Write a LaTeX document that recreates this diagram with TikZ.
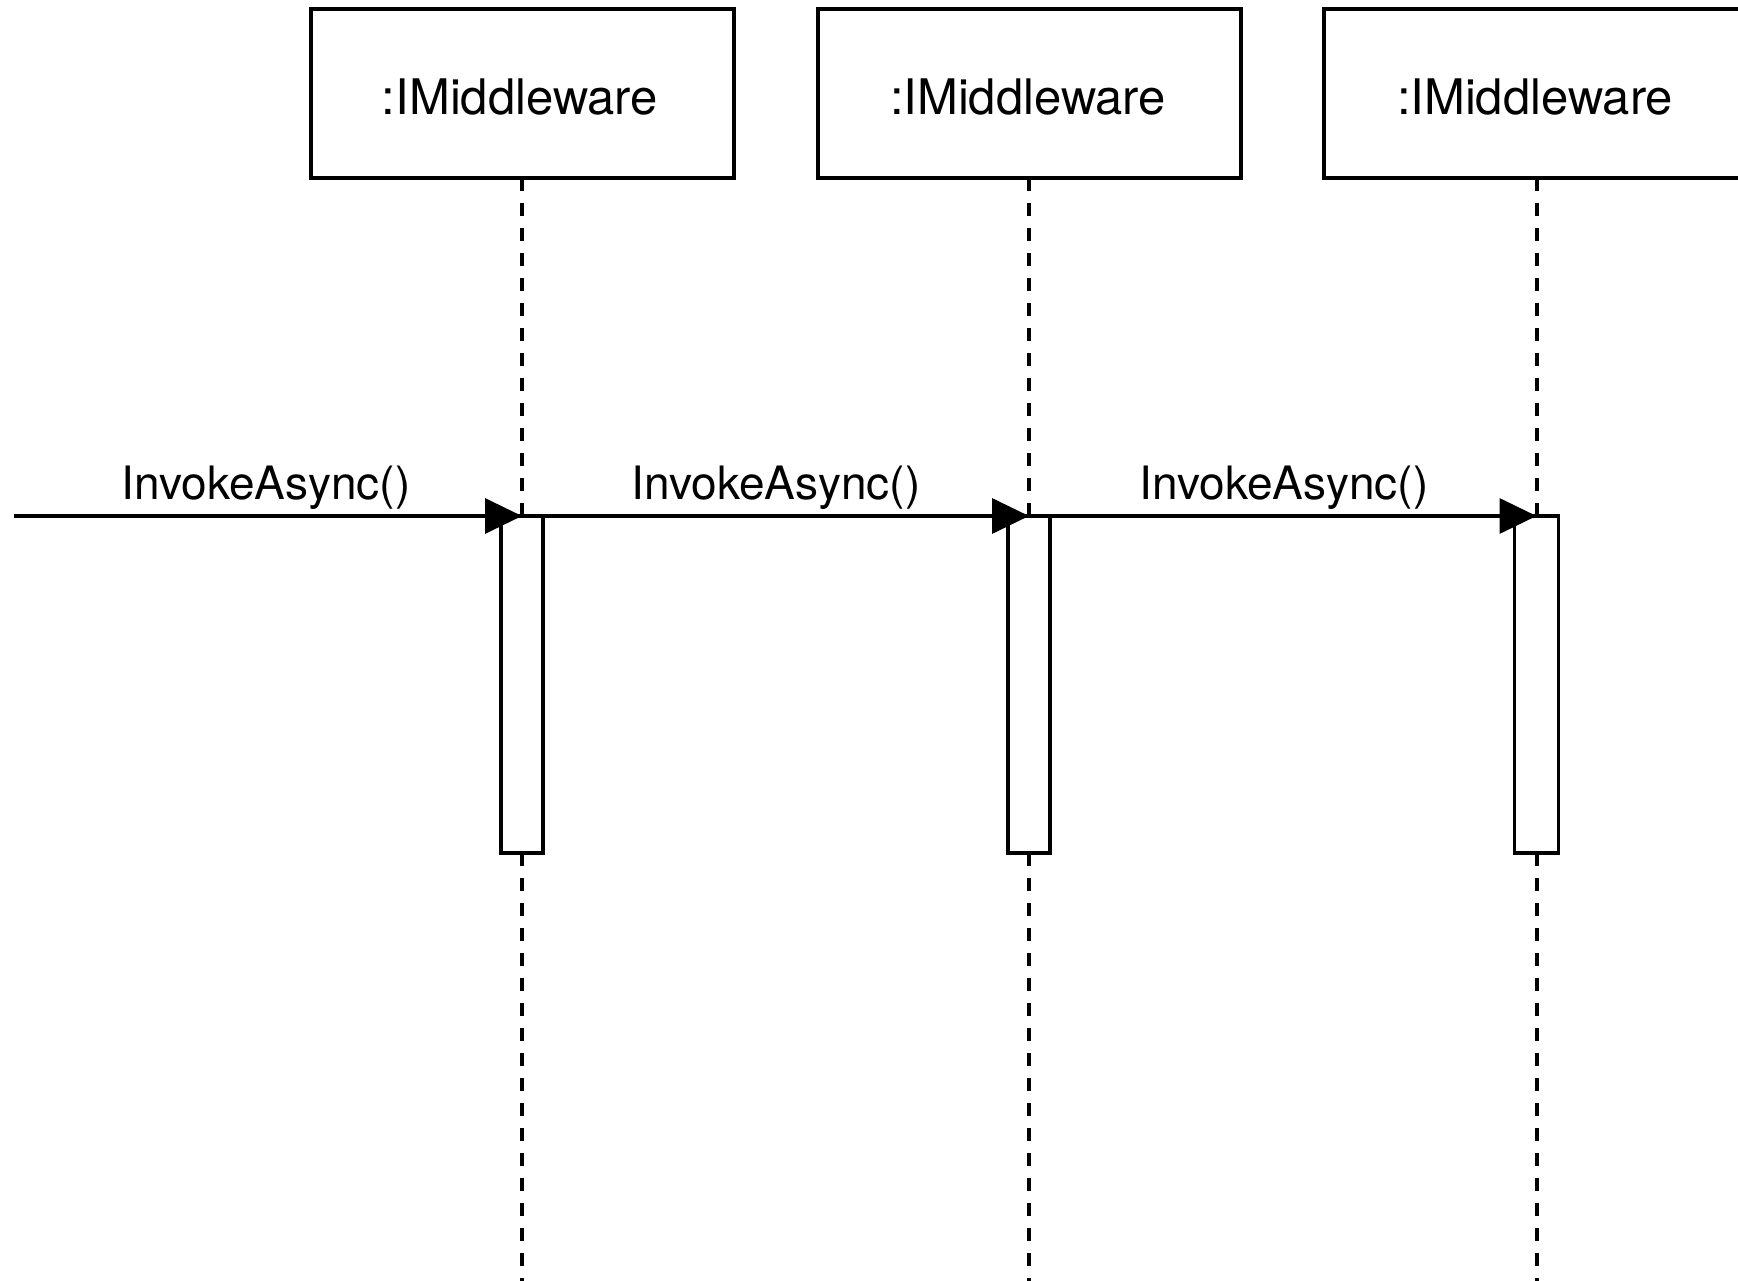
\documentclass[tikz,border=0pt]{standalone}
\usepackage{fontspec}
\setmainfont{TeX Gyre Heros}
\usetikzlibrary{arrows.meta}
\begin{document}
\begin{tikzpicture}[x=1pt,y=-1pt,
  objbox/.style={draw,line width=3.5pt,fill=white,minimum width=423pt,minimum height=169pt,inner sep=0pt,outer sep=0pt},
  objtext/.style={anchor=base,inner sep=0pt,font=\fontsize{49}{56}\selectfont},
  actbox/.style={draw,line width=3.5pt,fill=white,minimum width=42pt,minimum height=337pt,inner sep=0pt,outer sep=0pt,anchor=north},
  lifeline/.style={line width=3.5pt,dash pattern=on 13pt off 12pt},
  msg/.style={line width=3.5pt,-{Triangle[length=37pt,width=35pt]}},
  msglabel/.style={anchor=base,inner sep=0pt,font=\fontsize{46}{54}\selectfont}]
\useasboundingbox (0,0) rectangle (1738,1281);
% objects
\node[objbox] (m1) at (522.5,93.5) {};
\node[objbox] (m2) at (1029.5,93.5) {};
\node[objbox,minimum width=426pt] (m3) at (1537,93.5) {};
\node[objtext] (t1) at (520,115) {:IMiddleware};
\node[objtext] (t2) at (1028,115) {:IMiddleware};
\node[objtext] (t3) at (1535,115) {:IMiddleware};
% lifelines
\coordinate (e1) at (522,1281);
\coordinate (e2) at (1029,1281);
\coordinate (e3) at (1537,1281);
\draw[lifeline] (m1.south -| e1) -- (e1);
\draw[lifeline] (m2.south -| e2) -- (e2);
\draw[lifeline] (m3.south -| e3) -- (e3);
% activations
\node[actbox] (a1) at (522,516) {};
\node[actbox] (a2) at (1029,516) {};
\node[actbox,minimum width=44pt] (a3) at (1536.5,516) {};
% messages
\coordinate (s0) at (14,516);
\draw[msg] (s0) -- (a1.north);
\draw[msg] (a1.north east) -- (a2.north);
\draw[msg] (a2.north east) -- (a3.north);
\node[msglabel] (l1) at (266,499) {InvokeAsync()};
\node[msglabel] (l2) at (776,499) {InvokeAsync()};
\node[msglabel] (l3) at (1284,499) {InvokeAsync()};
\end{tikzpicture}
\end{document}
